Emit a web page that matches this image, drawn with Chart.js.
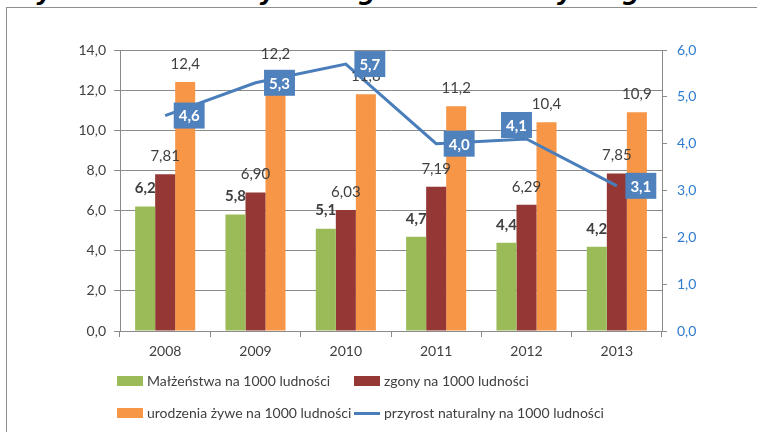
<!DOCTYPE html>
<html>
<head>
<meta charset="utf-8">
<script src="https://cdn.jsdelivr.net/npm/chart.js@4.4.1/dist/chart.umd.min.js"></script>
<style>
  body { margin: 0; background: #fff; width: 757px; height: 432px; overflow: hidden; position: relative; font-family: Lato, sans-serif; }
  #title { position: absolute; left: 10px; top: -22px; font: italic bold 24px "DejaVu Sans", sans-serif; white-space: nowrap; color: #000; }
  #frame { position: absolute; left: 6px; top: 7px; width: 900px; height: 600px; border: 1px solid #8f8f8f; }
  #wrap { position: absolute; left: 0; top: 0; width: 757px; height: 432px; }
  .lg { position: absolute; font-size: 14px; color: #404040; white-space: nowrap; line-height: 16px; }
  .lg i { position: absolute; left: -30px; top: 3px; width: 26px; height: 10px; }
  .lg i.line { height: 3px; top: 7px; }
</style>
</head>
<body>
<div id="title">Wykres 12. Procesy demograf. w G. Nowy Targ w latach 2008-2013</div>
<div id="frame"></div>
<div id="wrap"><canvas id="chart" width="757" height="432"></canvas></div>
<div id="legend"></div>
<script>
// ── Data ───────────────────────────────────────────────
const categories = ['2008', '2009', '2010', '2011', '2012', '2013'];
const marriages = [6.2, 5.8, 5.1, 4.7, 4.4, 4.2];
const deaths = [7.81, 6.90, 6.03, 7.19, 6.29, 7.85];
const births = [12.4, 12.2, 11.8, 11.2, 10.4, 10.9];
const growth = [4.6, 5.3, 5.7, 4.0, 4.1, 3.1];
const seriesNames = [
    'Małżeństwa na 1000 ludności',
    'zgony na 1000 ludności',
    'urodzenia żywe na 1000 ludności',
    'przyrost naturalny na 1000 ludności'
];

const fmt = (v, d) => v.toFixed(d).replace('.', ',');
const GRID = '#8a8a8a';

// ── Value labels ───────────────────────────────────────
const labelPlugin = {
    id: 'valueLabels',
    afterDatasetsDraw(chart) {
        const ctx = chart.ctx;
        ctx.save();
        ctx.textAlign = 'center';
        ctx.textBaseline = 'middle';
        chart.data.datasets.forEach((ds, i) => {
            if (ds.type === 'line') return;
            const meta = chart.getDatasetMeta(i);
            ctx.font = (ds.boldLabels ? 'bold ' : '') + '15px Lato';
            ctx.fillStyle = '#404040';
            meta.data.forEach((el, j) => {
                const shift = ds.labelShift ? ds.labelShift[j] : 0;
                ctx.fillText(fmt(ds.data[j], ds.decimals), el.x, el.y - 18 + shift);
            });
        });
        // line labels in blue boxes
        chart.data.datasets.forEach((ds, i) => {
            if (ds.type !== 'line') return;
            const meta = chart.getDatasetMeta(i);
            ctx.font = 'bold 15px Lato';
            meta.data.forEach((el, j) => {
                const off = ds.labelOffsets[j];
                const cx = el.x + off[0], cy = el.y + off[1];
                const txt = fmt(ds.data[j], 1);
                const w = ctx.measureText(txt).width + 10, h = 26;
                ctx.fillStyle = '#4F81BD';
                ctx.fillRect(cx - w / 2, cy - h / 2, w, h);
                ctx.fillStyle = '#fff';
                ctx.fillText(txt, cx, cy + 1);
            });
        });
        ctx.restore();
    }
};

const chart = new Chart(document.getElementById('chart'), {
    type: 'bar',
    data: {
        labels: categories,
        datasets: [
            { label: seriesNames[0], data: marriages, backgroundColor: '#9BBB59', order: 1, decimals: 1, boldLabels: true },
            { label: seriesNames[1], data: deaths, backgroundColor: '#953735', order: 1, decimals: 2 },
            { label: seriesNames[2], data: births, backgroundColor: '#F79646', order: 1, decimals: 1,
              labelShift: [0, -14, 0, 0, 0, 0] },
            {
                type: 'line', label: seriesNames[3], data: growth, yAxisID: 'y1',
                borderColor: '#4A7EBB', backgroundColor: '#4A7EBB', borderWidth: 3,
                pointRadius: 0, tension: 0, order: 0,
                labelOffsets: [[24, 0], [24, 0], [24, 0], [23, 0], [-10, -14], [24, 0]]
            }
        ]
    },
    options: {
        responsive: false,
        animation: false,
        layout: { padding: { top: 50 } },
        datasets: { bar: { categoryPercentage: 0.665, barPercentage: 1.0 } },
        plugins: { legend: { display: false }, tooltip: { enabled: false } },
        scales: {
            x: {
                grid: { drawOnChartArea: false, color: GRID, tickLength: 6 },
                border: { color: GRID },
                ticks: { color: '#404040', font: { family: 'Lato', size: 14 }, padding: 6 },
                afterFit: s => { s.height = 101; }
            },
            y: {
                min: 0, max: 14,
                ticks: { stepSize: 2, color: '#404040', font: { family: 'Lato', size: 14 }, padding: 8, callback: v => fmt(v, 1) },
                grid: { color: GRID, tickLength: 6 },
                border: { color: GRID },
                afterFit: s => { s.width = 120; }
            },
            y1: {
                position: 'right',
                min: 0, max: 6,
                ticks: { stepSize: 1, color: '#2E7BCF', font: { family: 'Lato', size: 14 }, padding: 10, callback: v => fmt(v, 1) },
                grid: { drawOnChartArea: false, color: GRID, tickLength: 5 },
                border: { color: GRID },
                afterFit: s => { s.width = 95; }
            }
        }
    },
    plugins: [labelPlugin]
});

// ── Legend (two rows, built from the datasets) ─────────
const legendPos = [[147, 373], [384, 373], [147, 405], [384, 405]];
const legendEl = document.getElementById('legend');
chart.data.datasets.forEach((ds, i) => {
    const d = document.createElement('div');
    d.className = 'lg';
    d.style.left = legendPos[i][0] + 'px';
    d.style.top = legendPos[i][1] + 'px';
    const sw = document.createElement('i');
    if (ds.type === 'line') sw.className = 'line';
    sw.style.background = ds.type === 'line' ? ds.borderColor : ds.backgroundColor;
    d.appendChild(sw);
    d.appendChild(document.createTextNode(ds.label));
    legendEl.appendChild(d);
});
</script>
</body>
</html>
